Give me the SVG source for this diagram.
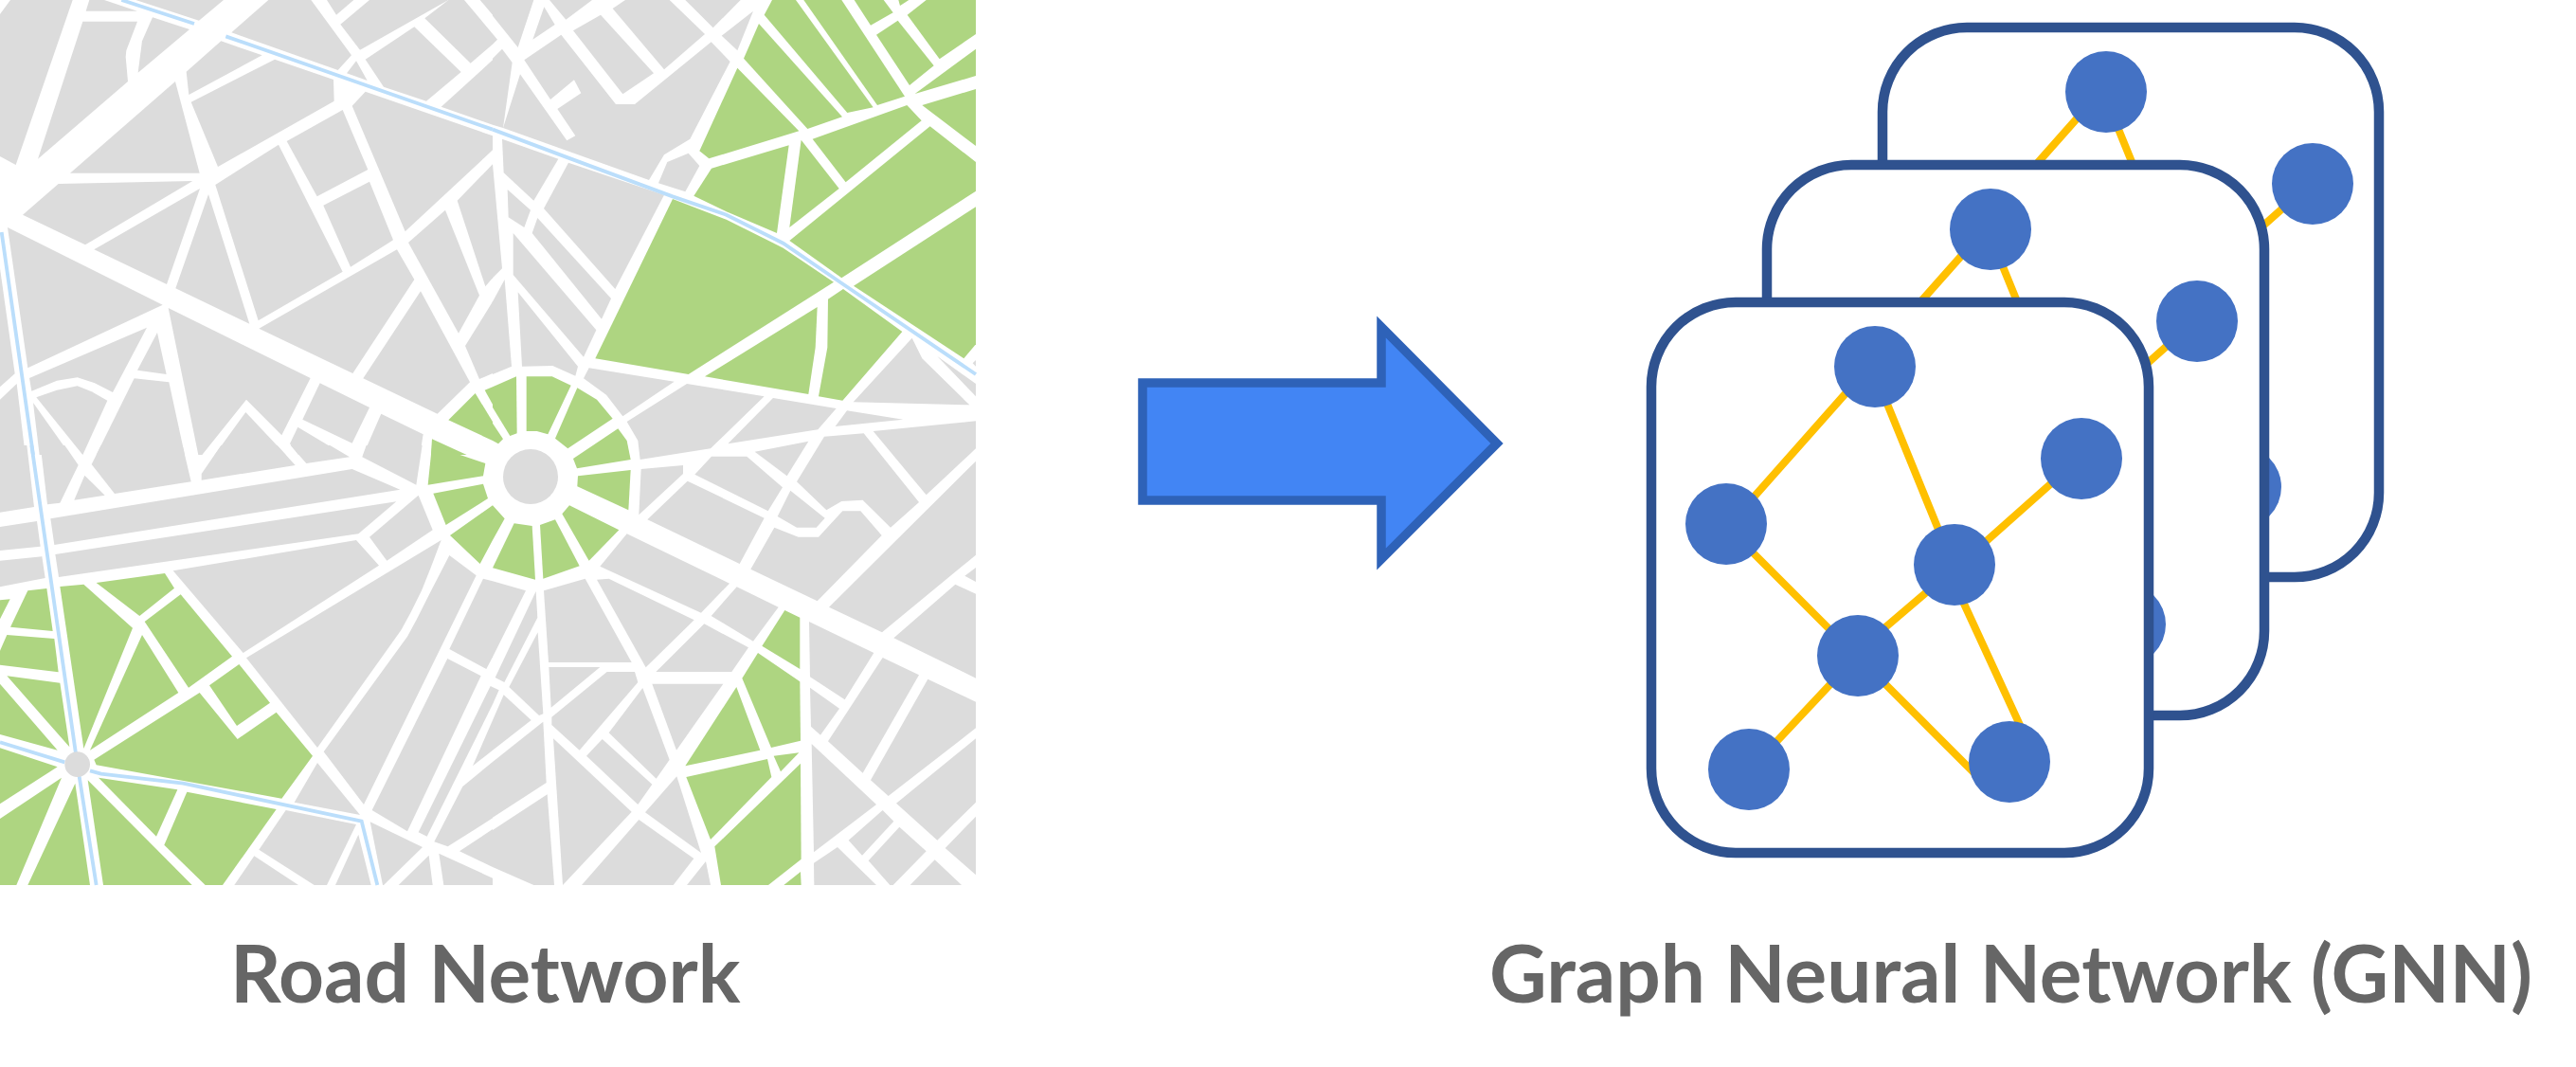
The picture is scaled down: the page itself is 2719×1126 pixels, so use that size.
<svg xmlns="http://www.w3.org/2000/svg" width="2719" height="1126" viewBox="0 0 2719 1126">
<style>
.gray polygon{fill:#dcdcdc}
.green polygon{fill:#aed581}
.rail{fill:none;stroke:#bbdefb;stroke-width:11.5}
.card{fill:#fff;stroke:#2f528f;stroke-width:10.5}
.edge{stroke:#ffc000;stroke-width:8;fill:none}
.node{fill:#4472c4}
.label{font-family:"Lato","Liberation Sans",sans-serif;font-size:83.700px;font-weight:700;fill:#666}
</style>
<defs>
<g id="graph">
<g class="edges">
<path class="edge" d="M1958 404L1841 536M1987 414L2051 571M1843 576L1938 671M2172 504L2091 576M2038 621L1983 668M1933 721L1871 787M1982 714L2086 818M2067 624L2137 776"/>
</g>
<circle class="node" cx="1979" cy="387" r="43"/>
<circle class="node" cx="1822" cy="553" r="43"/>
<circle class="node" cx="2197" cy="484" r="43"/>
<circle class="node" cx="2063" cy="596" r="43"/>
<circle class="node" cx="1961" cy="692" r="43"/>
<circle class="node" cx="1846" cy="812" r="43"/>
<circle class="node" cx="2121" cy="804" r="43"/>
</g>
</defs>
<rect width="2719" height="1126" fill="#fff"/>
<g id="road-map">
<g class="gray" transform="scale(.33333)">
<polygon points="0,45 33,0 230,0 50,522 0,495"/>
<polygon points="283,0 330,0 435,35 272,35"/>
<polygon points="262,68 435,68 400,160 398,180 405,258 120,503"/>
<polygon points="483,55 600,93 437,230 450,130"/>
<polygon points="430,0 708,0 630,65"/>
<polygon points="850,0 985,0 1113,175 1070,222 733,103"/>
<polygon points="1035,0 1120,0 1065,47"/>
<polygon points="1170,0 1420,0 1140,158 1078,77"/>
<polygon points="1128,193 1098,232 1163,255"/>
<polygon points="1157,188 1312,85 1460,228 1350,320 1215,275"/>
<polygon points="1420,0 1470,0 1560,107 1560,140 1490,200 1345,58"/>
<polygon points="1520,0 1560,0 1560,47"/>
<polygon points="590,227 700,130 830,175 598,300"/>
<polygon points="870,188 1056,252 1058,320 690,528 605,323"/>
<polygon points="222,548 555,258 632,548"/>
<polygon points="185,582 610,573 270,775 72,680"/>
<polygon points="633,597 528,900 298,790"/>
<polygon points="660,615 790,1025 556,913"/>
<polygon points="682,585 882,458 1085,860 818,1015"/>
<polygon points="908,447 1085,348 1165,537 1004,622"/>
<polygon points="1024,650 1170,575 1245,760 1110,845"/>
<polygon points="1115,335 1157,290 1560,430 1560,475 1283,733"/>
<polygon points="1397,338 1560,190 1560,395"/>
<polygon points="1293,768 1410,665 1518,935 1452,1055"/>
<polygon points="1448,635 1560,520 1560,880 1537,907"/>
<polygon points="1560,955 1473,1095 1518,1200 1560,1182"/>
<polygon points="820,1040 1257,790 1312,885 1117,1182"/>
<polygon points="1332,922 1488,1210 1385,1310 1150,1198"/>
<polygon points="24,720 515,965 88,1165"/>
<polygon points="533,975 983,1197 892,1378 780,1265 640,1440 628,1440"/>
<polygon points="1013,1213 1170,1290 1115,1403 958,1328"/>
<polygon points="1207,1310 1340,1375 1330,1440 1150,1440"/>
<polygon points="943,1352 1090,1440 945,1440 918,1405"/>
<polygon points="778,1305 905,1440 680,1440"/>
<polygon points="93,1197 465,1037 357,1242 300,1213 245,1195 180,1205 100,1238"/>
<polygon points="498,1053 527,1185 435,1172"/>
<polygon points="425,1198 535,1210 585,1440 305,1440"/>
<polygon points="115,1258 180,1235 245,1222 290,1240 340,1268 262,1440"/>
<polygon points="105,1275 222,1440 125,1440"/>
<polygon points="0,850 47,1183 0,1225"/>
<polygon points="0,1265 53,1215 80,1440 0,1440"/>
</g>
<g class="green" transform="scale(.33333)">
<polygon points="1420,1330 1505,1245 1560,1335 1560,1395"/>
<polygon points="1535,1235 1560,1225 1560,1280"/>
<polygon points="1368,1390 1478,1440 1365,1440"/>
</g>
<g class="gray" transform="translate(520,0) scale(.33333)">
<polygon points="0,0 130,0 80,150 0,50"/>
<polygon points="0,107 15,125 0,140"/>
<polygon points="0,185 30,155 62,198 33,405 0,395"/>
<polygon points="163,22 197,78 127,125"/>
<polygon points="180,0 315,0 232,62"/>
<polygon points="255,97 342,47 510,232 412,298"/>
<polygon points="380,27 420,0 560,0 672,108 543,220"/>
<polygon points="610,0 785,0 698,88"/>
<polygon points="725,113 825,35 775,160"/>
<polygon points="100,190 183,315 258,253 280,295 205,345 262,430 235,445 87,235 33,405 495,570 543,490 625,440 752,195 692,133 450,330 390,330 217,110"/>
<polygon points="553,513 620,485 655,525 610,607 525,580"/>
<polygon points="30,440 208,503 130,635 35,547"/>
<polygon points="240,515 543,617 388,915 162,660"/>
<polygon points="47,600 120,665 100,720 50,688"/>
<polygon points="142,690 375,945 345,1010 125,738"/>
<polygon points="65,738 328,1045 288,1130 65,870"/>
<polygon points="80,925 270,1160 262,1190 190,1158 93,1160"/>
<polygon points="0,955 38,885 60,1160 0,1185"/>
<polygon points="0,520 30,850 0,880"/>
<polygon points="305,1165 575,1208 412,1318 360,1250 288,1198"/>
<polygon points="615,1215 860,1255 690,1420 467,1455 460,1395 425,1335"/>
<polygon points="888,1260 1088,1293 1030,1360 745,1405"/>
<polygon points="1122,1300 1300,1328 1085,1350"/>
<polygon points="1142,1273 1328,1070 1360,1135 1510,1282"/>
<polygon points="1408,1128 1530,1215 1530,1255"/>
<polygon points="1520,1150 1530,1140 1530,1160"/>
</g>
<g class="green" transform="translate(520,0) scale(.33333)">
<polygon points="843,75 1107,370 997,408 795,185"/>
<polygon points="885,0 960,0 1205,340 1123,357 860,47"/>
<polygon points="985,0 1105,0 1305,305 1218,333"/>
<polygon points="1145,0 1238,0 1268,40 1197,80"/>
<polygon points="1285,0 1318,0 1290,18"/>
<polygon points="1215,110 1283,65 1397,208 1320,270"/>
<polygon points="1313,47 1373,0 1530,0 1530,108 1415,187"/>
<polygon points="1337,297 1530,155 1530,240"/>
<polygon points="1360,333 1530,282 1530,462"/>
<polygon points="940,762 1385,400 1530,513 1530,605 1105,880"/>
<polygon points="1143,905 1530,655 1530,1090 1492,1135"/>
<polygon points="1013,440 1312,333 1358,382 1118,577"/>
<polygon points="775,215 970,415 685,502 655,478"/>
<polygon points="693,533 938,460 900,738 740,670 637,620"/>
<polygon points="977,443 1097,597 940,720"/>
<polygon points="570,630 740,695 920,785 1080,893 620,1185 325,1135"/>
<polygon points="672,1192 1028,972 1022,1100 1000,1248"/>
<polygon points="1062,947 1110,915 1297,1050 1108,1268 1032,1255 1060,1100"/>
<polygon points="0,1225 75,1192 77,1372 55,1380 0,1290"/>
<polygon points="0,1340 33,1390 18,1405 0,1395"/>
<polygon points="107,1192 188,1192 248,1220 175,1375 140,1365 107,1365"/>
<polygon points="268,1228 330,1265 380,1325 238,1420 198,1388"/>
<polygon points="397,1357 425,1395 437,1455 267,1483 255,1452"/>
</g>
<g class="gray" transform="translate(0,470) scale(.33333)">
<polygon points="0,0 85,0 108,195 0,212"/>
<polygon points="128,0 205,0 248,62 190,182 150,187"/>
<polygon points="268,95 332,158 235,173"/>
<polygon points="290,60 320,0 578,0 605,115 363,153"/>
<polygon points="700,0 878,0 935,63 638,110 638,90"/>
<polygon points="920,0 1045,0 1107,37 970,57"/>
<polygon points="1160,0 1337,0 1318,125 1147,37"/>
<polygon points="160,232 1115,75 1267,140 172,315"/>
<polygon points="0,258 117,240 128,320 0,333"/>
<polygon points="0,365 133,352 143,420 0,448"/>
<polygon points="175,345 1255,178 1135,280 186,417"/>
<polygon points="548,397 1128,300 1200,380 770,657"/>
<polygon points="1170,290 1325,158 1370,268 1225,365"/>
<polygon points="780,673 1397,300 1365,385 1335,460 1300,530 1270,585 1005,957"/>
<polygon points="1025,970 1290,605 1320,550 1360,470 1423,348 1508,412 1152,1137"/>
<polygon points="1423,645 1530,422 1560,430 1560,670 1540,708"/>
<polygon points="1417,675 1523,730 1290,1222 1178,1155"/>
<polygon points="1553,762 1580,775 1560,820 1352,1238 1325,1225"/>
<polygon points="1560,870 1497,1015 1560,965"/>
<polygon points="1560,1002 1465,1080 1375,1255 1418,1270 1560,1180"/>
<polygon points="1560,1215 1455,1285 1560,1335"/>
<polygon points="1390,1292 1560,1370 1560,1392 1405,1392"/>
<polygon points="1005,1005 1140,1170 932,1130"/>
<polygon points="905,1155 1128,1200 1035,1392 995,1392 820,1280"/>
<polygon points="805,1300 945,1392 742,1392"/>
<polygon points="1135,1232 1175,1392 1062,1392"/>
<polygon points="1172,1192 1338,1272 1215,1392 1212,1392"/>
<polygon points="1358,1298 1370,1392 1262,1392"/>
</g>
<g class="green" transform="translate(0,470) scale(.33333)">
<polygon points="190,447 265,440 420,578 265,960"/>
<polygon points="305,435 522,405 552,452 442,540"/>
<polygon points="88,460 148,453 167,588 33,575"/>
<polygon points="0,490 32,487 0,550"/>
<polygon points="22,600 172,612 185,718 0,695 0,650"/>
<polygon points="22,730 190,752 220,955"/>
<polygon points="0,755 182,965 0,915"/>
<polygon points="450,600 565,783 285,965"/>
<polygon points="572,472 735,668 597,767 458,558"/>
<polygon points="757,693 855,815 750,888 663,760"/>
<polygon points="632,783 752,930 875,845 990,983 892,1118 305,1012 298,995"/>
<polygon points="0,958 182,1018 0,1135"/>
<polygon points="195,1052 52,1392 0,1392 0,1182"/>
<polygon points="238,1070 285,1392 88,1392"/>
<polygon points="278,1060 608,1392 327,1392"/>
<polygon points="312,1052 562,1090 495,1238"/>
<polygon points="592,1097 875,1152 705,1392 650,1392 520,1265"/>
<polygon points="1368,0 1537,57 1530,97 1355,125"/>
<polygon points="1372,152 1530,122 1545,168 1412,252"/>
<polygon points="1425,285 1560,190 1598,232 1560,300 1520,375"/>
</g>
<g class="gray" transform="translate(520,470) scale(.33333)">
<polygon points="470,75 603,63 603,90 463,220"/>
<polygon points="640,92 693,35 805,35 918,133 872,208"/>
<polygon points="617,113 860,230 782,375 490,235"/>
<polygon points="892,260 968,290 1032,290 1108,208 1165,208 1232,285 1028,493 817,392"/>
<polygon points="902,225 943,143 1052,230 1025,260 963,260"/>
<polygon points="830,20 1000,-13 932,97"/>
<polygon points="1050,-28 1175,-38 1350,180 1260,260 1172,173 1105,177 1057,205 963,115"/>
<polygon points="1205,-45 1530,-77 1530,10 1373,157"/>
<polygon points="1065,512 1530,50 1530,347 1233,592"/>
<polygon points="425,280 750,437 660,530 340,383"/>
<polygon points="773,448 905,512 825,620 692,540"/>
<polygon points="1530,387 1495,413 1530,432"/>
<polygon points="1270,610 1465,440 1530,470 1530,737"/>
<polygon points="1002,558 1207,657 1115,805 1005,733"/>
<polygon points="1235,672 1350,727 1172,1037 1062,937"/>
<polygon points="1378,740 1530,812 1530,895 1253,1110 1197,1060"/>
<polygon points="1005,767 1098,833 1038,917 1008,890"/>
<polygon points="1010,945 1215,1137 1017,1288"/>
<polygon points="1235,1155 1270,1190 1170,1298 1127,1250"/>
<polygon points="1288,1208 1373,1285 1268,1392 1258,1392 1190,1315"/>
<polygon points="1278,1133 1530,928 1530,1130 1408,1250"/>
<polygon points="1433,1275 1530,1175 1530,1360"/>
<polygon points="1400,1312 1485,1392 1322,1392"/>
<polygon points="1092,1272 1215,1392 1018,1392 1017,1322"/>
<polygon points="330,425 368,422 638,553 485,703"/>
<polygon points="162,460 293,422 440,687 177,687"/>
<polygon points="178,702 340,702 185,830"/>
<polygon points="362,717 450,717 460,750 275,965 187,885 187,860"/>
<polygon points="517,717 670,565 810,640 757,717"/>
<polygon points="505,755 730,755 582,965"/>
<polygon points="475,768 560,995 518,1055 368,910"/>
<polygon points="347,930 505,1073 460,1137 297,983"/>
<polygon points="583,1048 660,1290 483,1162"/>
<polygon points="192,928 440,1160 222,1392"/>
<polygon points="463,1185 637,1308 572,1392 282,1392"/>
<polygon points="675,1317 690,1392 615,1392"/>
<polygon points="143,592 160,850 147,855 52,765"/>
<polygon points="0,430 105,460 0,670"/>
<polygon points="137,462 142,545 37,750 8,735"/>
<polygon points="35,790 122,870 0,965 0,870"/>
<polygon points="160,875 170,1068 0,1178 0,1002"/>
<polygon points="173,1105 195,1392 130,1392 0,1335 0,1218"/>
</g>
<g class="green" transform="translate(520,470) scale(.33333)">
<polygon points="68,247 125,255 135,425 0,388"/>
<polygon points="150,252 198,235 275,382 160,422"/>
<polygon points="243,190 400,268 305,365 220,217"/>
<polygon points="270,97 437,78 430,205 268,130"/>
<polygon points="925,522 973,545 973,708 853,635"/>
<polygon points="840,657 973,748 975,935 882,957 790,737"/>
<polygon points="772,765 847,965 610,1015"/>
<polygon points="613,1050 870,993 883,1050 690,1248"/>
<polygon points="890,983 970,973 912,1033"/>
<polygon points="975,1007 977,1310 873,1392 723,1392 703,1270"/>
<polygon points="975,1350 977,1392 922,1392"/>
</g>
<g transform="scale(.33333)">
<path class="rail" d="M385 0L615 75M715 115L1560 410M5 735L105 1440"/>
</g>
<g transform="translate(520,0) scale(.33333)">
<path class="rail" d="M0 410L240 500L570 622L740 680L920 770L1110 900L1530 1185"/>
</g>
<g transform="translate(0,470) scale(.33333)">
<path class="rail" d="M100 0L245 1010L305 1392M0 940L205 1003M285 1030L320 1040L580 1070L1145 1190L1195 1392"/>
<circle cx="245" cy="1010" r="40" fill="#dcdcdc"/>
</g>
<circle cx="560" cy="503" r="29" fill="#dcdcdc"/>
</g>
<g id="arrow"><polygon points="1206,404 1458,404 1458,345 1580,468 1458,590 1458,528 1206,528" fill="#4285f4" stroke="#2e62b8" stroke-width="9.500"/></g>
<g id="layer-back">
<rect class="card" x="1987" y="29" width="524" height="580" rx="89"/>
<use href="#graph" transform="translate(244,-290)"/>
</g>
<g id="layer-middle">
<rect class="card" x="1865" y="174" width="525" height="581" rx="89"/>
<use href="#graph" transform="translate(122,-145)"/>
</g>
<g id="layer-front">
<rect class="card" x="1743" y="319" width="525" height="581" rx="89"/>
<use href="#graph"/>
</g>
<g id="label-road"><text class="label" x="243" y="1058">Road Network</text></g>
<g id="label-gnn"><text class="label" x="1572" y="1058">Graph Neural Network (GNN)</text></g>
</svg>
